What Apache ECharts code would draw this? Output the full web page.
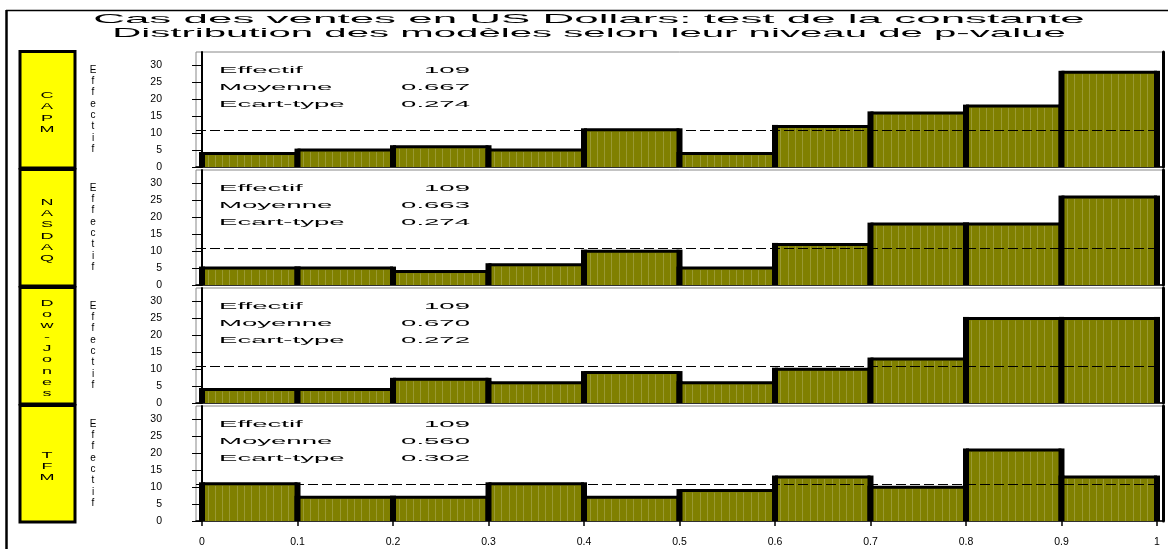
<!DOCTYPE html>
<html>
<head>
<meta charset="utf-8">
<title>Distribution des p-values</title>
<script src="https://cdn.jsdelivr.net/npm/echarts@6/dist/echarts.min.js"></script>
<style>
  html, body { margin: 0; padding: 0; background: #fff; }
  #chart { width: 1168px; height: 549px; }
</style>
</head>
<body>
<div id="chart"></div>
<script>
// bornes des classes de p-value
const binEdges = [0, 0.1, 0.2, 0.3, 0.4, 0.5, 0.6, 0.7, 0.8, 0.9, 1]
const xTicks = [0, 0.1, 0.2, 0.3, 0.4, 0.5, 0.6, 0.7, 0.8, 0.9, 1]
const yTicks = [0, 5, 10, 15, 20, 25, 30]

const models = ['CAPM', 'NASDAQ', 'Dow-Jones', 'TFM']
const capmCounts = [4, 5, 6, 5, 11, 4, 12, 16, 18, 28]
const nasdaqCounts = [5, 5, 4, 6, 10, 5, 12, 18, 18, 26]
const dowJonesCounts = [4, 4, 7, 6, 9, 6, 10, 13, 25, 25]
const tfmCounts = [11, 7, 7, 11, 7, 9, 13, 10, 21, 13]
const counts = [capmCounts, nasdaqCounts, dowJonesCounts, tfmCounts]

const effectifs = [109, 109, 109, 109]
const moyennes = [0.667, 0.663, 0.670, 0.560]
const ecarts = [0.274, 0.274, 0.272, 0.302]

const title1 = 'Cas des ventes en US Dollars: test de la constante'
const title2 = 'Distribution des modèles selon leur niveau de p-value'

// mise en page
const panelTops = [52, 170, 288, 406]
const panelHeight = 115
const plotLeft = 196
const plotRight = 1163
const yMax = 34
const olive = '#808000'
const font = '"Liberation Sans", Arial, sans-serif'

function renderBar (params, api) {
  let top = api.coord([api.value(0), api.value(2)])
  let base = api.coord([api.value(1), 0])
  let x0 = top[0], x1 = base[0], y0 = top[1], y1 = base[1]
  let children = [{
    type: 'rect',
    shape: { x: x0, y: y0, width: x1 - x0, height: y1 - y0 },
    style: { fill: olive }
  }]
  // hachures claires verticales
  for (let x = x0 + 5.5; x < x1 - 3; x += 7.3) {
    children.push({
      type: 'line',
      shape: { x1: Math.round(x) + 0.5, y1: y0 + 2, x2: Math.round(x) + 0.5, y2: y1 },
      style: { stroke: 'rgba(255,255,255,0.2)', lineWidth: 1 }
    })
  }
  children.push({ type: 'line', shape: { x1: x0, y1: y0, x2: x1, y2: y0 }, style: { stroke: '#000', lineWidth: 3 } })
  children.push({ type: 'line', shape: { x1: x0, y1: y0 - 1.5, x2: x0, y2: y1 }, style: { stroke: '#000', lineWidth: 6 } })
  children.push({ type: 'line', shape: { x1: x1, y1: y0 - 1.5, x2: x1, y2: y1 }, style: { stroke: '#000', lineWidth: 6 } })
  return { type: 'group', children: children }
}

let grids = []
let xAxes = []
let yAxes = []
let series = []
let graphics = []

// cadre extérieur
graphics.push({ type: 'line', shape: { x1: 6.5, y1: 10, x2: 6.5, y2: 549 }, style: { stroke: '#000', lineWidth: 2.5 } })
graphics.push({ type: 'line', shape: { x1: 6, y1: 10.5, x2: 1168, y2: 10.5 }, style: { stroke: '#000', lineWidth: 1.5 } })

// titres
graphics.push({
  type: 'text', x: 589, y: 19.5, scaleX: 3.38,
  style: { text: title1, font: '13px ' + font, fill: '#000', align: 'center', verticalAlign: 'middle' }
})
graphics.push({
  type: 'text', x: 589, y: 33, scaleX: 3.09,
  style: { text: title2, font: '13px ' + font, fill: '#000', align: 'center', verticalAlign: 'middle' }
})

models.forEach((name, i) => {
  let top = panelTops[i]
  let last = i === models.length - 1
  let data = counts[i].map((c, k) => [binEdges[k], binEdges[k + 1], c])
  let total = counts[i].reduce((a, b) => a + b, 0)

  grids.push({
    left: plotLeft,
    right: 1168 - plotRight,
    top: top,
    height: panelHeight,
    show: true,
    borderColor: '#888',
    borderWidth: 1
  })
  xAxes.push({
    type: 'value',
    gridIndex: i,
    min: -0.0063,
    max: 1.0063,
    splitLine: { show: false },
    axisLine: { show: true, onZero: false, lineStyle: { color: '#000', width: 1.5 } },
    axisTick: { show: last, customValues: xTicks, length: 5, lineStyle: { color: '#000', width: 1.5 } },
    axisLabel: { show: last, customValues: xTicks, margin: 16, fontSize: 10.5, fontFamily: font, color: '#000' }
  })
  yAxes.push({
    type: 'value',
    gridIndex: i,
    min: 0,
    max: yMax,
    name: 'Effectif'.split('').join('\n'),
    nameLocation: 'middle',
    nameRotate: 0,
    nameGap: 103,
    nameTextStyle: { fontSize: 10, fontFamily: font, color: '#000', lineHeight: 11.3, align: 'center', verticalAlign: 'middle', padding: [7, 0, 0, 0] },
    splitLine: { show: false },
    axisLine: { show: true, lineStyle: { color: '#000', width: 2 } },
    axisTick: { show: true, customValues: yTicks, length: 10, lineStyle: { color: '#000', width: 1 } },
    axisLabel: { customValues: yTicks, margin: 34, fontSize: 10.5, fontFamily: font, color: '#000' }
  })
  yAxes.push({
    type: 'value',
    gridIndex: i,
    position: 'right',
    min: 0,
    max: yMax,
    splitLine: { show: false },
    axisLine: { show: true, lineStyle: { color: '#000', width: 3 } },
    axisTick: { show: false },
    axisLabel: { show: false }
  })
  series.push({
    type: 'custom',
    name: name,
    xAxisIndex: i,
    yAxisIndex: i * 2,
    renderItem: renderBar,
    encode: { x: [0, 1], y: 2 },
    data: data,
    markLine: {
      silent: true,
      symbol: 'none',
      label: { show: false },
      lineStyle: { color: '#000', type: [10, 4], width: 1 },
      data: [{ yAxis: total / counts[i].length }]
    }
  })

  // étiquette jaune du modèle
  graphics.push({
    type: 'rect',
    shape: { x: 20, y: top - 0.5, width: 55, height: panelHeight + 1.5 },
    style: { fill: '#ffff00', stroke: '#000', lineWidth: 3 }
  })
  graphics.push({
    type: 'text', x: 47, y: top + panelHeight / 2 + 3, scaleX: 2,
    style: { text: name.split('').join('\n'), font: '9px ' + font, lineHeight: 11.3, fill: '#000', align: 'center', verticalAlign: 'middle' }
  })

  // statistiques
  let labels = ['Effectif', 'Moyenne', 'Ecart-type']
  let values = [String(effectifs[i]), moyennes[i].toFixed(3), ecarts[i].toFixed(3)]
  labels.forEach((lab, k) => {
    let y = top + 18.5 + k * 17
    graphics.push({
      type: 'text', x: 219, y: y, scaleX: 2.9,
      style: { text: lab, font: '9.5px ' + font, fill: '#000', align: 'left', verticalAlign: 'middle' }
    })
    graphics.push({
      type: 'text', x: 470, y: y, scaleX: 2.9,
      style: { text: values[k], font: '9.5px ' + font, fill: '#000', align: 'right', verticalAlign: 'middle' }
    })
  })
})

let chart = echarts.init(document.getElementById('chart'))
let option = {
  animation: false,
  backgroundColor: '#fff',
  grid: grids,
  xAxis: xAxes,
  yAxis: yAxes,
  series: series,
  graphic: graphics
}
chart.setOption(option)
</script>
</body>
</html>
